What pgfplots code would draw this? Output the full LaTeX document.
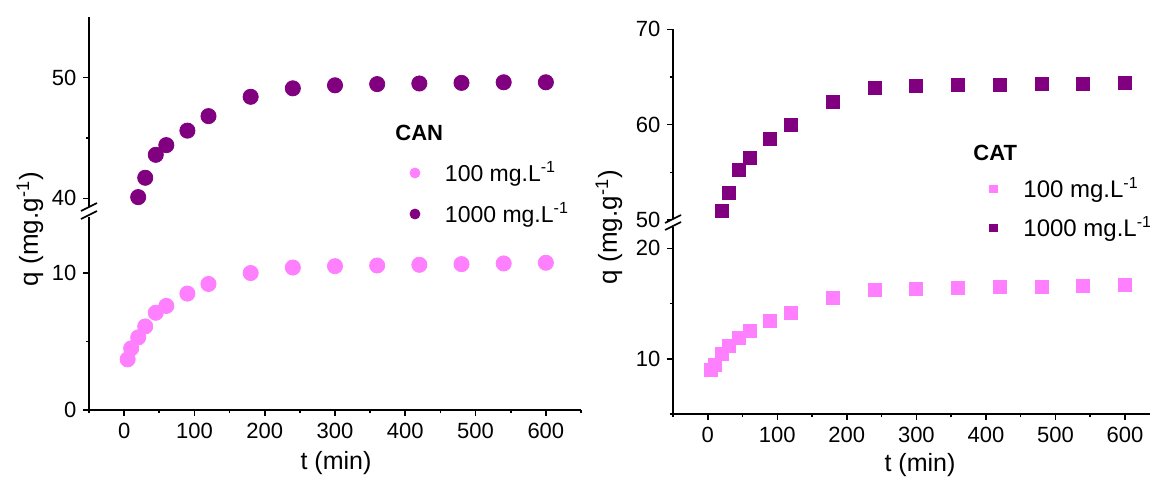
\documentclass[border=0pt]{standalone}
\usepackage{pgfplots}
\pgfplotsset{compat=1.18}
\usepackage{fontspec}
\setmainfont{Liberation Sans}
\definecolor{pinkc}{RGB}{255,128,255}
\definecolor{purpc}{RGB}{128,0,128}
\pgfplotsset{
  legc/.style={legend image code/.code={\draw[##1, only marks, mark size=#1] plot coordinates {(0pt,0pt)};}},
  brk/.style={
    scale only axis, clip=false, anchor=south west,
    every tick/.style={black, line width=0.8pt},
    /pgf/number format/assume math mode=true,
    tick label style={font=\fontsize{11}{12}\selectfont},
    major tick length=2.8pt, minor tick length=1.7pt,
    legend style={draw=none, fill=none, inner sep=0pt, outer sep=0pt,
      anchor=west, column sep=12.5pt,
      nodes={inner sep=0pt, outer sep=0pt},
      font=\fontsize{11.5}{13}\selectfont},
  },
  noarrow/.style={axis line style={-, line width=0.8pt},
    x axis line style={-}, y axis line style={-},
    every outer x axis line/.append style={-},
    every outer y axis line/.append style={-},
    every inner x axis line/.append style={-},
    every inner y axis line/.append style={-},
    tick align=outside},
  lower/.style={brk, axis x line=bottom, axis y line=left, noarrow,
    xtick={0,100,...,600}, minor xtick={-50,50,...,650}},
  upper/.style={brk, axis x line=none, axis y line=left, noarrow, xtick=\empty},
}
\begin{document}
\begin{tikzpicture}
\useasboundingbox (0,0) rectangle (575pt,-239pt);
% ---------------- CAN (left) ----------------
\begin{axis}[lower, at={(44.5pt,-205pt)}, width=246pt, height=96.5pt,
  xmin=-50, xmax=650, ymin=0, ymax=14.09,
  ytick={0,10}, minor ytick={5},
  legend style={at={(0.6524,1.228)}}]
\addplot[only marks, mark=*, color=pinkc, mark size=3.8pt,
  mark options={draw=pinkc, fill=pinkc}, legc=2.5pt]
  table {
5 3.7
10 4.5
20 5.3
30 6.1
45 7.1
60 7.6
90 8.5
120 9.2
180 10.0
240 10.4
300 10.5
360 10.55
420 10.6
480 10.65
540 10.7
600 10.75
};
\addlegendentry{100 mg.L\textsuperscript{-1}}
\end{axis}
\begin{axis}[upper, at={(44.5pt,-103.75pt)}, width=246pt, height=95.25pt,
  xmin=-50, xmax=650, ymin=39.24, ymax=55,
  ytick={40,50}, minor ytick={45},
  legend style={at={(0.6524,-0.0341)}}]
\addplot[only marks, mark=*, color=purpc, mark size=3.8pt,
  mark options={draw=purpc, fill=purpc}, legc=2.5pt]
  table {
20 40.1
30 41.7
45 43.6
60 44.4
90 45.6
120 46.8
180 48.4
240 49.1
300 49.35
360 49.45
420 49.5
480 49.55
540 49.6
600 49.6
};
\addlegendentry{1000 mg.L\textsuperscript{-1}}
\end{axis}
% ---------------- CAT (right) ----------------
\begin{axis}[lower, at={(336.5pt,-207pt)}, width=238.5pt, height=93.3pt,
  xmin=-50, xmax=636, ymin=5, ymax=21.9,
  ytick={10,20}, minor ytick={5,15},
  legend style={at={(0.6635,1.2058)}, column sep=13.25pt, font=\fontsize{12}{13}\selectfont}]
\addplot[only marks, mark=square*, color=pinkc, mark size=3.25pt,
  mark options={draw=pinkc, fill=pinkc}, legc=1.85pt]
  table {
5 9.0
10 9.45
20 10.4
30 11.15
45 11.9
60 12.5
90 13.4
120 14.15
180 15.5
240 16.2
300 16.35
360 16.45
420 16.5
480 16.55
540 16.6
600 16.65
};
\addlegendentry{100 mg.L\textsuperscript{-1}}
\end{axis}
\begin{axis}[upper, at={(336.5pt,-110.5pt)}, width=238.5pt, height=95.85pt,
  xmin=-50, xmax=636, ymin=49.9, ymax=70,
  ytick={50,60,70}, minor ytick={55,65},
  legend style={at={(0.6635,-0.0365)}, column sep=13.25pt, font=\fontsize{12}{13}\selectfont}]
\addplot[only marks, mark=square*, color=purpc, mark size=3.25pt,
  mark options={draw=purpc, fill=purpc}, legc=1.85pt]
  table {
20 51.0
30 52.8
45 55.25
60 56.5
90 58.5
120 60.0
180 62.4
240 63.9
300 64.1
360 64.15
420 64.2
480 64.25
540 64.3
600 64.35
};
\addlegendentry{1000 mg.L\textsuperscript{-1}}
\end{axis}
% break marks
\fill[white] (40.5pt,-105.5pt) -- (48.5pt,-101.5pt) -- (48.5pt,-105.5pt) -- (40.5pt,-109.5pt) -- cycle;
\draw[line width=0.8pt] (40.5pt,-105.5pt) -- (48.5pt,-101.5pt);
\draw[line width=0.8pt] (40.5pt,-109.5pt) -- (48.5pt,-105.5pt);
\fill[white] (332.5pt,-111.5pt) -- (340.5pt,-107.5pt) -- (340.5pt,-111pt) -- (332.5pt,-115pt) -- cycle;
\draw[line width=0.8pt] (332.5pt,-111.5pt) -- (340.5pt,-107.5pt);
\draw[line width=0.8pt] (332.5pt,-115pt) -- (340.5pt,-111pt);
% titles and labels
\node[anchor=west, font=\bfseries\fontsize{11}{12}\selectfont, inner sep=0pt] at (197.5pt,-66.5pt) {CAN};
\node[anchor=west, font=\bfseries\fontsize{11}{12}\selectfont, inner sep=0pt] at (486.5pt,-76.5pt) {CAT};
\node[font=\fontsize{12.5}{14}\selectfont, inner sep=0pt] at (168pt,-231.5pt) {t (min)};
\node[font=\fontsize{12.5}{14}\selectfont, inner sep=0pt] at (460pt,-232.5pt) {t (min)};
\node[font=\fontsize{13}{14}\selectfont, inner sep=0pt, rotate=90] at (15pt,-114.5pt) {q (mg.g\textsuperscript{-1})};
\node[font=\fontsize{13}{14}\selectfont, inner sep=0pt, rotate=90] at (304.5pt,-113.5pt) {q (mg.g\textsuperscript{-1})};
\end{tikzpicture}
\end{document}
